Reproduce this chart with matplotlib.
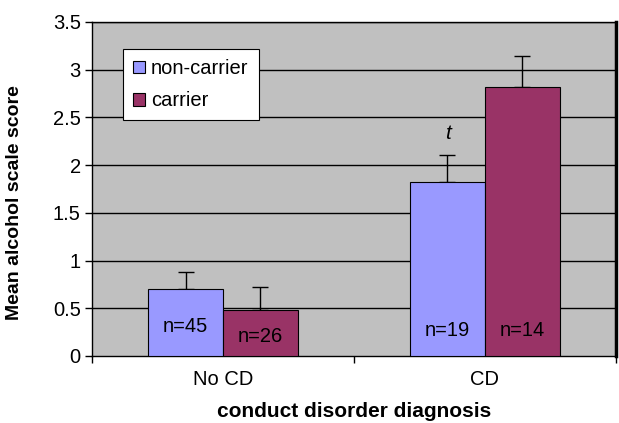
import matplotlib
import matplotlib.pyplot as plt
import numpy as np

matplotlib.use("Agg")

# Data
groups = ["No CD", "CD"]
series = ["non-carrier", "carrier"]
noncarrier_mean = [0.70, 1.82]
carrier_mean = [0.48, 2.82]
noncarrier_err = [0.18, 0.29]
carrier_err = [0.24, 0.32]
noncarrier_n = ["n=45", "n=19"]
carrier_n = ["n=26", "n=14"]
noncarrier_n_y = [0.31, 0.27]
carrier_n_y = [0.20, 0.27]
yticks = [0, 0.5, 1, 1.5, 2, 2.5, 3, 3.5]

colors = {"non-carrier": "#9999FF", "carrier": "#993366"}

plt.rcParams["font.family"] = ["Liberation Sans", "DejaVu Sans"]

fig = plt.figure(figsize=(6.19, 4.23), dpi=100)
ax = fig.add_axes([0.1486, 0.1584, 0.8464, 0.7896])
ax.set_facecolor("#C0C0C0")

x = np.arange(len(groups))
width = 0.286

for yv in yticks[1:]:
    ax.axhline(yv, color="black", lw=1.0, zorder=1)

ax.bar(x - width / 2, noncarrier_mean, width, color=colors["non-carrier"],
       edgecolor="black", linewidth=0.8, label="non-carrier", zorder=3)
ax.bar(x + width / 2, carrier_mean, width, color=colors["carrier"],
       edgecolor="black", linewidth=0.8, label="carrier", zorder=3)

# upper error bars only
ax.errorbar(x - width / 2, noncarrier_mean, yerr=[np.zeros(2), noncarrier_err],
            fmt="none", ecolor="black", elinewidth=1.0, capsize=6, capthick=1.0, zorder=2)
ax.errorbar(x + width / 2, carrier_mean, yerr=[np.zeros(2), carrier_err],
            fmt="none", ecolor="black", elinewidth=1.0, capsize=6, capthick=1.0, zorder=2)

for xi, lab, yy in zip(x - width / 2, noncarrier_n, noncarrier_n_y):
    ax.text(xi, yy, lab, ha="center", va="center", fontsize=14.5, zorder=4)
for xi, lab, yy in zip(x + width / 2, carrier_n, carrier_n_y):
    ax.text(xi, yy, lab, ha="center", va="center", fontsize=14.5, zorder=4)

ax.text(x[1] - width / 2, 2.33, "t", ha="center", va="center",
        fontsize=15, style="italic", zorder=4)

ax.set_xlim(-0.5, 1.5)
ax.set_ylim(0, 3.5)
ax.set_yticks(yticks)
ax.set_yticklabels(["0", "0.5", "1", "1.5", "2", "2.5", "3", "3.5"], fontsize=14.5)
ax.set_xticks(x)
ax.set_xticklabels(groups, fontsize=14.5)
ax.tick_params(axis="x", length=0, pad=10)
ax.tick_params(axis="y", length=5, width=1.0, pad=3)
# category boundary ticks
ax.set_xticks([-0.5, 0.5, 1.5], minor=True)
ax.tick_params(axis="x", which="minor", length=5, width=1.0)

ax.spines["top"].set_linewidth(1.0)
ax.spines["right"].set_linewidth(2.5)
ax.spines["left"].set_linewidth(1.0)
ax.spines["bottom"].set_linewidth(1.0)

ax.set_ylabel("Mean alcohol scale score", fontsize=14, fontweight="bold")
ax.yaxis.set_label_coords(-0.132, 0.46)
ax.set_xlabel("conduct disorder diagnosis", fontsize=15, fontweight="bold")
ax.xaxis.set_label_coords(0.5, -0.165)
ax.xaxis.label.set_va("center")

leg = ax.legend(loc="upper left", bbox_to_anchor=(0.059, 0.919), fontsize=14.5,
                frameon=True, fancybox=False, framealpha=1, edgecolor="black",
                handlelength=0.6, handleheight=0.6, handletextpad=0.3,
                borderpad=0.5, labelspacing=0.65, borderaxespad=0)
leg.get_frame().set_linewidth(0.8)

fig.savefig("out.png", dpi=100, facecolor="white")
plt.close(fig)
